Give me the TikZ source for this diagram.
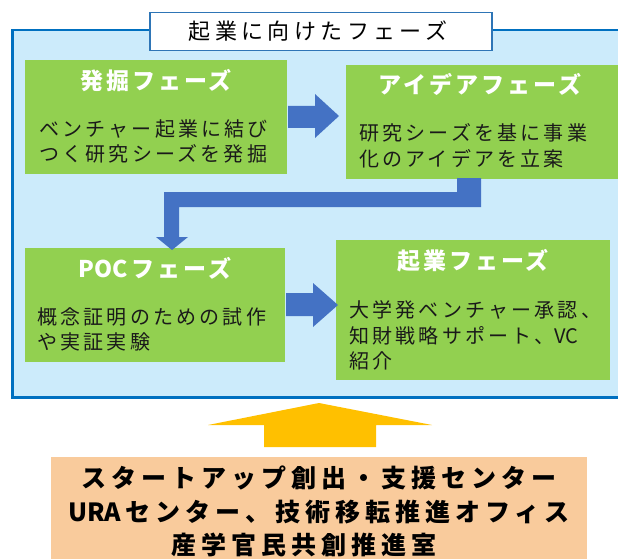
\documentclass[tikz,border=0pt]{standalone}
\usepackage{fontspec}
\setmainfont{Noto Sans CJK JP}
\newfontfamily\jpw[LetterSpace=20]{Noto Sans CJK JP}
\newfontfamily\jpn[LetterSpace=16]{Noto Sans CJK JP}
\newfontfamily\jpt[LetterSpace=13]{Noto Sans CJK JP}
\newfontfamily\jpz{Noto Sans CJK JP}
\definecolor{panelfill}{HTML}{CCEBFB}
\definecolor{panelline}{HTML}{0070C0}
\definecolor{titleline}{HTML}{2E75B6}
\definecolor{greenbox}{HTML}{92D050}
\definecolor{bluearrow}{HTML}{4472C4}
\definecolor{yellowarrow}{HTML}{FFC000}
\definecolor{orangebox}{HTML}{F9CB9C}
\definecolor{bodytext}{HTML}{1A1A1A}
\begin{document}
\begin{tikzpicture}[x=1pt,y=-1pt,
  phase/.style={fill=greenbox,draw=none,anchor=north west,inner sep=0pt},
  phasetitle/.style={text=white,font=\jpt\bfseries\fontsize{23}{27}\selectfont,inner sep=0pt,anchor=center},
  phasebody/.style={text=bodytext,font=\jpn\fontsize{20}{25.5}\selectfont,inner sep=0pt,align=left,anchor=base west},
  blockarrow/.style={fill=bluearrow,draw=none}]
\clip (0,0) rectangle (618,559);
% panel
\node[fill=panelfill,draw=panelline,line width=2.5pt,anchor=north west,minimum width=640pt,minimum height=367pt,inner sep=0pt] (panel) at (11,29) {};
\node[fill=white,draw=titleline,line width=1.5pt,minimum width=342pt,minimum height=38pt,inner sep=0pt,anchor=north west] (titlebox) at (149,12) {};
\node[font=\jpw\fontsize{22}{26}\selectfont,text=black,inner sep=0pt] (titletext) at (318,31) {起業に向けたフェーズ};
% phase boxes
\node[phase,minimum width=262pt,minimum height=114pt] (b1) at (25,60) {};
\node[phase,minimum width=272pt,minimum height=114pt] (b2) at (346,65) {};
\node[phase,minimum width=260pt,minimum height=114pt] (b3) at (25,248) {};
\node[phase,minimum width=274pt,minimum height=140pt] (b4) at (336,240) {};
\node[phasetitle] (t1) at (156,81) {発掘フェーズ};
\node[phasetitle] (t2) at (480,84) {アイデアフェーズ};
\node[phasetitle] (t3) at (155,268) {{\jpz\bfseries POC}\,フェーズ};
\node[phasetitle] (t4) at (473,261) {起業フェーズ};
\node[phasebody] (d1) at (39,161.6) {ベンチャー起業に結び\\つく研究シーズを発掘};
\node[phasebody] (d2) at (359,166.1) {研究シーズを基に事業\\化のアイデアを立案};
\node[phasebody] (d3) at (37,349.6) {概念証明のための試作\\や実証実験};
\node[phasebody] (d4) at (349,368.6) {大学発ベンチャー承認、\\知財戦略サポート、{\jpz VC}\\紹介};
% blue arrows
\fill[blockarrow] (288,106) -- (315,106) -- (315,94) -- (339,116) -- (315,138) -- (315,128) -- (288,128) -- cycle;
\fill[blockarrow] (457,178) -- (481,178) -- (481,207) -- (179,207) -- (179,237) -- (188,237) -- (172,250) -- (156,237) -- (164,237) -- (164,192) -- (457,192) -- cycle;
\fill[blockarrow] (286,293) -- (313,293) -- (313,283) -- (338,305) -- (313,327) -- (313,316) -- (286,316) -- cycle;
% yellow arrow
\fill[yellowarrow] (264,447) -- (264,425) -- (208,425) -- (319,403) -- (432,425) -- (376,425) -- (376,447) -- cycle;
% orange box
\node[fill=orangebox,draw=none,anchor=north west,minimum width=536pt,minimum height=110pt,inner sep=0pt] (org) at (51,457) {};
\node[font=\jpw\bfseries\fontsize{25}{33.5}\selectfont,text=black,align=center,inner sep=0pt,anchor=base] (orgtext) at (319,554.5) {スタートアップ創出・支援センター\\{\jpz\bfseries URA}\,センター、技術移転推進オフィス\\産学官民共創推進室\rule{30pt}{0pt}};
\end{tikzpicture}
\end{document}
